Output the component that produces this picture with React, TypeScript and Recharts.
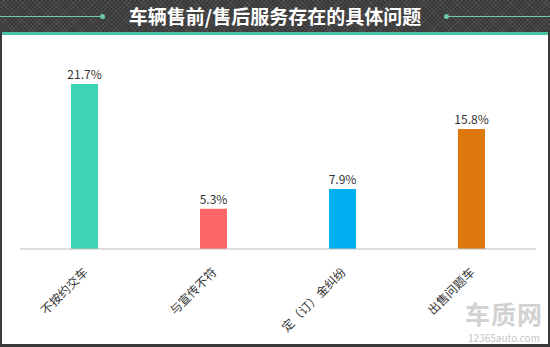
import React from "react";
import { Bar, BarChart, Cell, LabelList, XAxis, YAxis } from "recharts";

const categories = ["不按约交车", "与宣传不符", "定（订）金纠纷", "出售问题车"];
const shares = [21.7, 5.3, 7.9, 15.8];
const barColors = ["#3dd5b6", "#ff6666", "#00b0f0", "#dc780c"];

const data = categories.map((name, i) => ({ name, value: shares[i] }));

const FONT = '"Noto Sans CJK SC", "Noto Sans", sans-serif';

const SlantTick = ({ x, y, payload }: any) => (
  <g transform={`translate(${x + 1},${y + 13})`}>
    <text
      transform="rotate(-45)"
      textAnchor="end"
      dy="0.35em"
      fontSize={12}
      fill="#333"
      fontFamily={FONT}
    >
      {payload.value}
    </text>
  </g>
);

const hatch =
  "repeating-linear-gradient(45deg, rgba(255,255,255,0.07) 0 1px, transparent 1px 3px), repeating-linear-gradient(-45deg, rgba(255,255,255,0.07) 0 1px, transparent 1px 3px), #383838";

export default function App() {
  return (
    <div
      style={{
        position: "absolute",
        left: 0,
        top: 0,
        width: 550,
        height: 347,
        background: "#fff",
        fontFamily: FONT,
        overflow: "hidden",
      }}
    >
      <div style={{ position: "absolute", left: 0, top: 0, width: 550, height: 32, background: hatch }} />
      <div style={{ position: "absolute", left: 0, top: 32, width: 550, height: 3, background: "#4cc3a6" }} />
      {/* frame */}
      <div style={{ position: "absolute", left: 0, top: 32, width: 2, height: 315, background: "#3a3a3a" }} />
      <div style={{ position: "absolute", right: 0, top: 32, width: 2, height: 315, background: "#3a3a3a" }} />
      <div style={{ position: "absolute", left: 0, bottom: 0, width: 550, height: 3, background: "#3a3a3a" }} />
      {/* title decorations */}
      <div style={{ position: "absolute", left: 0, top: 16, width: 102, height: 1, background: "#6fc9ae" }} />
      <div style={{ position: "absolute", left: 100, top: 14, width: 5, height: 5, borderRadius: 3, background: "#6fc9ae" }} />
      <div style={{ position: "absolute", left: 448, top: 16, width: 102, height: 1, background: "#6fc9ae" }} />
      <div style={{ position: "absolute", left: 444, top: 14, width: 5, height: 5, borderRadius: 3, background: "#6fc9ae" }} />
      <div
        style={{
          position: "absolute",
          left: 0,
          top: 0,
          width: 550,
          height: 32,
          lineHeight: "32px",
          textAlign: "center",
          color: "#fff",
          fontWeight: 700,
          fontSize: 19,
        }}
      >
        车辆售前/售后服务存在的具体问题
      </div>

      <div style={{ position: "absolute", left: 0, top: 0 }}>
        <BarChart
          width={550}
          height={347}
          data={data}
          margin={{ top: 59, right: 14, left: 20, bottom: 38 }}
        >
          <YAxis hide domain={[0, 25]} />
          <XAxis
            dataKey="name"
            height={60}
            interval={0}
            tickLine={false}
            axisLine={{ stroke: "#bdbdbd" }}
            tick={<SlantTick />}
          />
          <Bar dataKey="value" barSize={27} isAnimationActive={false}>
            {data.map((d, i) => (
              <Cell key={d.name} fill={barColors[i]} />
            ))}
            <LabelList
              dataKey="value"
              position="top"
              offset={5}
              formatter={(v: any) => `${v}%`}
              style={{ fontSize: 12, fill: "#333", fontFamily: FONT }}
            />
          </Bar>
        </BarChart>
      </div>

      <div
        style={{
          position: "absolute",
          left: 460,
          top: 300,
          width: 88,
          textAlign: "center",
          color: "#d2d2d2",
          fontWeight: 700,
          fontSize: 25,
          lineHeight: "26px",
          letterSpacing: 1,
        }}
      >
        车质网
      </div>
      <div
        style={{
          position: "absolute",
          left: 460,
          top: 332,
          width: 88,
          textAlign: "center",
          color: "#c4c4c4",
          fontSize: 10,
          lineHeight: "11px",
        }}
      >
        12365auto.com
      </div>
    </div>
  );
}
